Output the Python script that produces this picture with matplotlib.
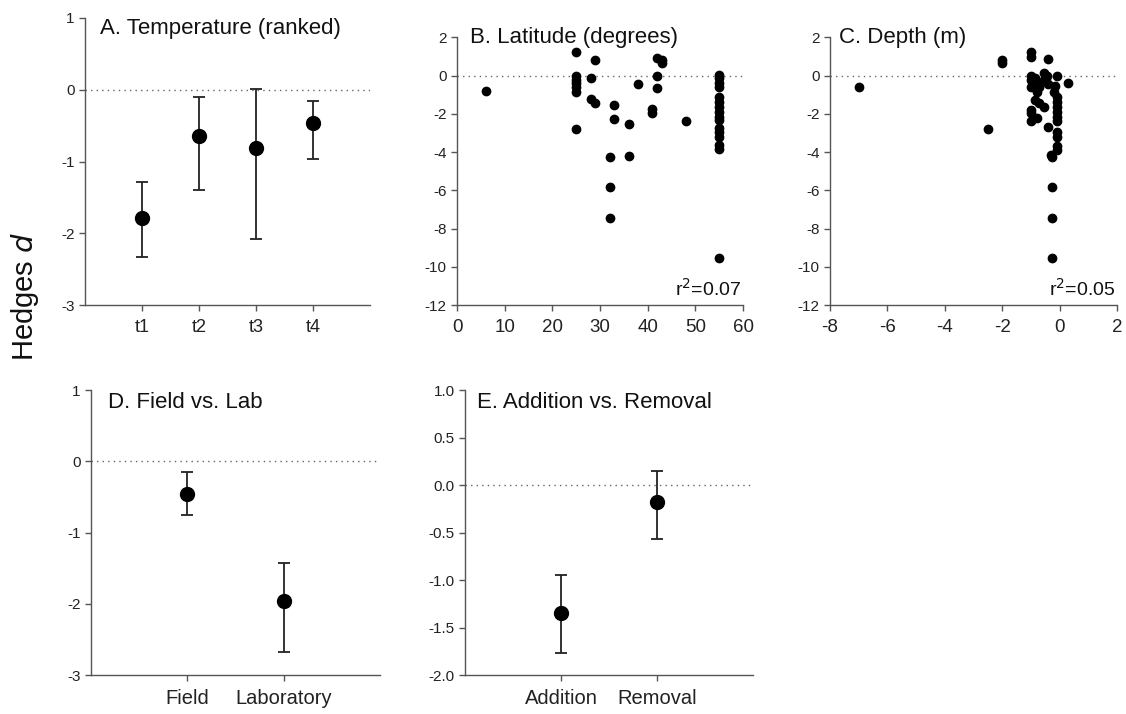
import matplotlib
matplotlib.use("Agg")
import matplotlib.pyplot as plt
from matplotlib.ticker import FormatStrFormatter

plt.rcParams['font.family'] = ['Liberation Sans', 'DejaVu Sans']
plt.rcParams['axes.unicode_minus'] = False

# A. Temperature (ranked)
temp_labels = ["t1", "t2", "t3", "t4"]
temp_mean = [-1.79, -0.65, -0.81, -0.47]
temp_upper = [-1.28, -0.10, 0.01, -0.16]
temp_lower = [-2.33, -1.40, -2.08, -0.96]

# B. Latitude
lat = [6, 25, 25, 25, 25, 25, 25, 25, 28, 28, 29, 29, 32, 32, 32, 33, 33,
       36, 36, 38, 41, 41, 42, 42, 42, 43, 43, 48,
       55, 55, 55, 55, 55, 55, 55, 55, 55, 55, 55, 55, 55, 55, 55, 55]
lat_d = [-0.82, 1.26, 0.0, -0.2, -0.4, -0.6, -0.85, -2.77, -0.1, -1.24,
         0.82, -1.45, -4.26, -5.8, -7.47, -1.54, -2.27, -2.51, -4.19, -0.42,
         -1.73, -1.94, 0.94, 0.0, -0.63, 0.82, 0.68, -2.37,
         0.05, -0.1, -0.4, -0.58, -1.1, -1.36, -1.62, -1.88, -2.15, -2.32,
         -2.76, -2.93, -3.2, -3.63, -3.84, -9.53]

# C. Depth
depth = [-7.0, -2.5, -2.0, -2.0,
         -1.0, -1.0, -1.0, -1.0, -1.0, -1.0, -1.0, -1.0,
         -0.85, -0.85, -0.8, -0.8, -0.8,
         -0.7, -0.7,
         -0.55, -0.55, -0.55,
         -0.45, -0.4, -0.4, -0.4,
         -0.3, -0.25, -0.25, -0.25, -0.25,
         -0.2, -0.15,
         -0.1, -0.1, -0.1, -0.1, -0.1, -0.1, -0.1, -0.1, -0.1, -0.1, -0.1,
         0.3]
depth_d = [-0.61, -2.77, 0.82, 0.68,
           1.26, 0.96, 0.0, -0.2, -0.6, -1.8, -1.95, -2.35,
           -0.1, -1.28, -0.4, -0.85, -2.22,
           -0.6, -1.45,
           0.12, -0.25, -1.62,
           0.0, 0.86, -0.45, -2.67,
           -4.15, -4.26, -5.8, -7.47, -9.53,
           -0.84, -0.55,
           -0.02, -1.1, -1.36, -1.62, -1.88, -2.15, -2.35, -2.95, -3.2, -3.7, -3.9,
           -0.37]

# D. Field vs. Lab
site_labels = ["Field", "Laboratory"]
site_mean = [-0.46, -1.96]
site_upper = [-0.15, -1.43]
site_lower = [-0.76, -2.68]

# E. Addition vs. Removal
manip_labels = ["Addition", "Removal"]
manip_mean = [-1.35, -0.18]
manip_upper = [-0.95, 0.15]
manip_lower = [-1.77, -0.57]

SPINE = '#555555'


def estilo(ax):
    for s in ['top', 'right']:
        ax.spines[s].set_visible(False)
    for s in ['left', 'bottom']:
        ax.spines[s].set_color(SPINE)
        ax.spines[s].set_linewidth(1.0)
    ax.tick_params(direction='out', length=4, width=1, colors=SPINE,
                   labelcolor='#222222', labelsize=11)
    ax.axhline(0, color='#666666', linestyle=(0, (1, 3)), linewidth=1, zorder=0)


def medias(ax, etiquetas, media, sup, inf, ylim, yticks, titulo, tx, ty):
    pos = list(range(1, len(etiquetas) + 1))
    err = [[m - i for m, i in zip(media, inf)], [s - m for s, m in zip(sup, media)]]
    ax.errorbar(pos, media, yerr=err, fmt='o', color='black', markersize=10,
                ecolor='#222222', elinewidth=1.3, capsize=4, capthick=1.3)
    ax.set_xlim(0, len(etiquetas) + 1)
    ax.set_ylim(*ylim)
    ax.set_yticks(yticks)
    ax.set_xticks(pos)
    ax.set_xticklabels(etiquetas)
    estilo(ax)
    ax.text(tx, ty, titulo, transform=ax.transAxes, fontsize=16, va='center',
            ha='left', color='#111111')


fig = plt.figure(figsize=(11.26, 7.14), dpi=100)

axA = fig.add_axes([0.0755, 0.5728, 0.253, 0.402])
medias(axA, temp_labels, temp_mean, temp_upper, temp_lower, (-3, 1),
       [-3, -2, -1, 0, 1], "A. Temperature (ranked)", 0.053, 0.965)
axA.tick_params(axis='x', labelsize=13, pad=6)

axB = fig.add_axes([0.4059, 0.5728, 0.254, 0.3747])
axB.plot(lat, lat_d, 'o', color='black', markersize=6)
axB.set_xlim(0, 60)
axB.set_ylim(-12, 2)
axB.set_xticks(range(0, 61, 10))
axB.set_yticks(range(-12, 3, 2))
estilo(axB)
axB.tick_params(axis='x', labelsize=13.5, pad=6)
axB.text(0.045, 1.0, "B. Latitude (degrees)", transform=axB.transAxes,
         fontsize=16, va='center', ha='left', color='#111111')
axB.text(0.995, 0.06, "r$^2$=0.07", transform=axB.transAxes, fontsize=14,
         va='center', ha='right', color='#111111')

axC = fig.add_axes([0.7371, 0.5728, 0.2549, 0.3747])
axC.plot(depth, depth_d, 'o', color='black', markersize=6)
axC.set_xlim(-8, 2)
axC.set_ylim(-12, 2)
axC.set_xticks(range(-8, 3, 2))
axC.set_yticks(range(-12, 3, 2))
estilo(axC)
axC.tick_params(axis='x', labelsize=13.5, pad=6)
axC.text(0.03, 1.0, "C. Depth (m)", transform=axC.transAxes,
         fontsize=16, va='center', ha='left', color='#111111')
axC.text(0.995, 0.06, "r$^2$=0.05", transform=axC.transAxes, fontsize=14,
         va='center', ha='right', color='#111111')

axD = fig.add_axes([0.0808, 0.0546, 0.2567, 0.399])
medias(axD, site_labels, site_mean, site_upper, site_lower, (-3, 1),
       [-3, -2, -1, 0, 1], "D. Field vs. Lab", 0.06, 0.955)
axD.tick_params(axis='x', labelsize=14.5, pad=6)

axE = fig.add_axes([0.413, 0.0546, 0.2558, 0.399])
medias(axE, manip_labels, manip_mean, manip_upper, manip_lower, (-2, 1),
       [-2.0, -1.5, -1.0, -0.5, 0.0, 0.5, 1.0], "E. Addition vs. Removal", 0.04, 0.955)
axE.yaxis.set_major_formatter(FormatStrFormatter('%.1f'))
axE.tick_params(axis='x', labelsize=14.5, pad=6)

fig.text(0.022, 0.585, "Hedges $\\mathit{d}$", rotation=90, fontsize=21,
         va='center', ha='center', color='#111111')

fig.savefig("out.png", dpi=100)
